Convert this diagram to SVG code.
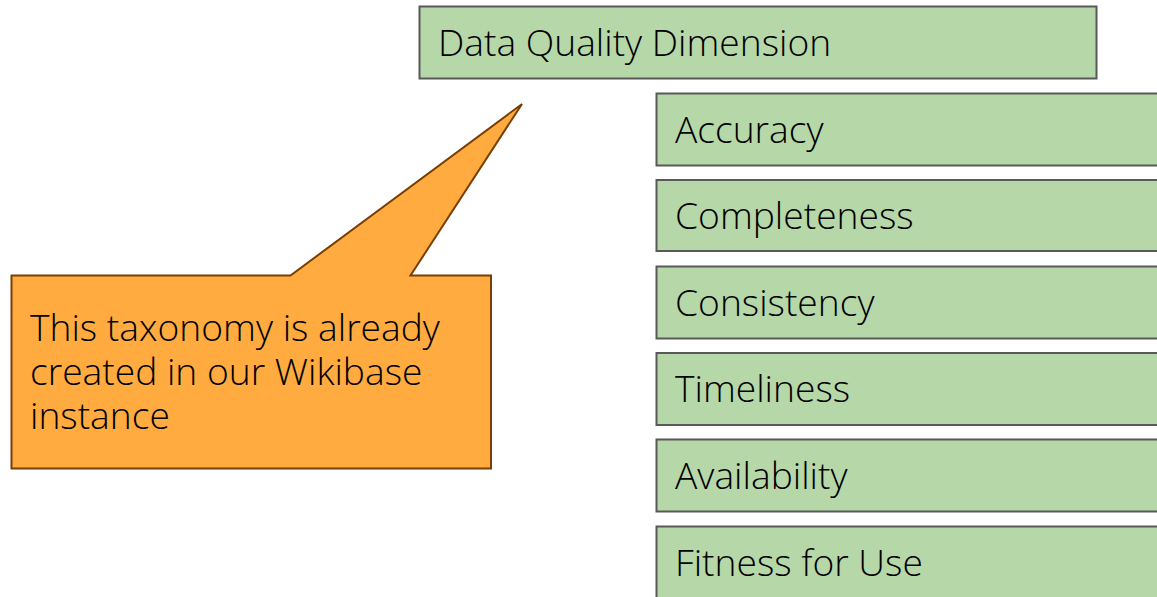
<svg xmlns="http://www.w3.org/2000/svg" width="1157" height="597" viewBox="0 0 1157 597">
<style>
.box{fill:#b6d7a8;stroke:#595959;stroke-width:2}
.lbl{font-family:"Open Sans","Liberation Sans",sans-serif;font-size:37.2px;font-weight:300;fill:#000}
.call{fill:#ffab40;stroke:#783f04;stroke-width:2;stroke-linejoin:miter}
</style>
<rect width="1157" height="597" fill="#fff"/>
<g id="dqd"><rect class="box" x="419.5" y="6.5" width="677" height="72"/><text class="lbl" x="438" y="56">Data Quality Dimension</text></g>
<g id="accuracy"><rect class="box" x="656.5" y="93.5" width="510" height="72"/><text class="lbl" x="675" y="143">Accuracy</text></g>
<g id="completeness"><rect class="box" x="656.5" y="180" width="510" height="71"/><text class="lbl" x="675" y="229">Completeness</text></g>
<g id="consistency"><rect class="box" x="656.5" y="266.5" width="510" height="72"/><text class="lbl" x="675" y="316">Consistency</text></g>
<g id="timeliness"><rect class="box" x="656.5" y="353" width="510" height="72"/><text class="lbl" x="675" y="402">Timeliness</text></g>
<g id="availability"><rect class="box" x="656.5" y="439.5" width="510" height="72"/><text class="lbl" x="675" y="489">Availability</text></g>
<g id="fitness"><rect class="box" x="656.5" y="526.5" width="510" height="80"/><text class="lbl" x="675" y="576">Fitness for Use</text></g>
<g id="callout">
<path class="call" d="M11.5 275.5 H290.5 L522 104 L410.5 275.5 H491 V468.5 H11.5 Z"/>
<text class="lbl" x="30"><tspan x="30" y="341">This taxonomy is already</tspan><tspan x="30" y="385">created in our Wikibase</tspan><tspan x="30" y="429">instance</tspan></text>
</g>
<g id="connectors"></g>
</svg>
